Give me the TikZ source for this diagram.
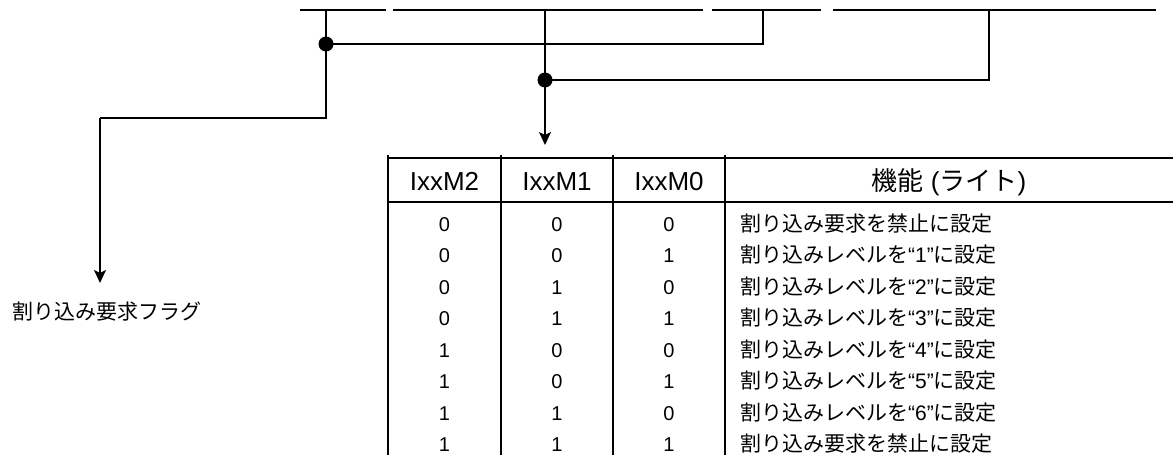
\documentclass[tikz,border=0pt]{standalone}
\usepackage{fontspec}
\setmainfont{Liberation Sans}
\newfontfamily\cjk{Noto Sans CJK JP}
\usetikzlibrary{arrows.meta}

\begin{document}
\begin{tikzpicture}[x=1pt,y=-1pt,
  wire/.style={line width=1.9pt},
  arr/.style={wire,-{Stealth[length=13pt,width=12pt,inset=3pt]}},
  dotmark/.style={circle,fill=black,inner sep=0pt,minimum size=15pt},
  grid/.style={line width=1.9pt},
  headtxt/.style={anchor=base,font=\fontsize{26}{30}\selectfont,inner sep=0pt},
  bittxt/.style={anchor=base,font=\fontsize{20}{24}\selectfont,inner sep=0pt},
  fntxt/.style={anchor=base west,font=\fontsize{21}{25}\selectfont,inner sep=0pt},
  lbltxt/.style={anchor=base west,font=\fontsize{21}{25}\selectfont\cjk,inner sep=0pt}]
\useasboundingbox (0,0) rectangle (1173,455);

% register bit line along the top, broken into fields
\coordinate (t0) at (300,10);  \coordinate (t1) at (386,10);
\coordinate (t2) at (393,10);  \coordinate (t3) at (703,10);
\coordinate (t4) at (712,10);  \coordinate (t5) at (821,10);
\coordinate (t6) at (833,10);  \coordinate (t7) at (1156,10);
\draw[wire] (t0) -- (t1) (t2) -- (t3) (t4) -- (t5) (t6) -- (t7);

% taps and junctions
\coordinate (a0) at (326,10);  \node[dotmark] (j1) at (326,44) {};
\coordinate (a1) at (326,118); \coordinate (a2) at (100,118);
\coordinate (b0) at (763,10);  \coordinate (b1) at (763,44);
\coordinate (c0) at (545,10);  \node[dotmark] (j2) at (545,80) {};
\coordinate (c1) at (545,145);
\coordinate (d0) at (989,10);  \coordinate (d1) at (989,80);
\coordinate (f0) at (100,283);

% flag output
\node[lbltxt] (flag) at (12,319.5) {割り込み要求フラグ};

\draw[wire] (a0) -- (j1.center) -- (a1) -- (a2);
\draw[arr] (a2) -- (f0);
\draw[wire] (j1.center) -- (b1) -- (b0);
\draw[wire] (c0) -- (j2.center);
\draw[arr] (j2.center) -- (c1);
\draw[wire] (j2.center) -- (d1) -- (d0);

% table rules
\draw[grid] (388,158) -- (1173,158);
\draw[grid] (388,202) -- (1173,202);
\foreach \x in {388,501,613,725} \draw[grid] (\x,155) -- (\x,458);

% header
\node[headtxt] (h2) at (444.5,190.5) {IxxM2};
\node[headtxt] (h1) at (557,190.5) {IxxM1};
\node[headtxt] (h0) at (669,190.5) {IxxM0};
\node[headtxt] (hf) at (949,190.5) {{\cjk 機能} ({\cjk ライト})};

% rows
\foreach \i/\a/\b/\c/\t in {
  0/0/0/0/{{\cjk 割り込み要求を禁止に設定}},
  1/0/0/1/{{\cjk 割り込みレベルを}“1”{\cjk に設定}},
  2/0/1/0/{{\cjk 割り込みレベルを}“2”{\cjk に設定}},
  3/0/1/1/{{\cjk 割り込みレベルを}“3”{\cjk に設定}},
  4/1/0/0/{{\cjk 割り込みレベルを}“4”{\cjk に設定}},
  5/1/0/1/{{\cjk 割り込みレベルを}“5”{\cjk に設定}},
  6/1/1/0/{{\cjk 割り込みレベルを}“6”{\cjk に設定}},
  7/1/1/1/{{\cjk 割り込み要求を禁止に設定}}} {
  \pgfmathsetmacro{\yy}{224+31.5*\i+7.3}
  \node[bittxt] (r\i m2) at (444.5,\yy) {\a};
  \node[bittxt] (r\i m1) at (557,\yy) {\b};
  \node[bittxt] (r\i m0) at (669,\yy) {\c};
  \node[fntxt] (r\i f) at (740,\yy) {\t};
}
\end{tikzpicture}
\end{document}
